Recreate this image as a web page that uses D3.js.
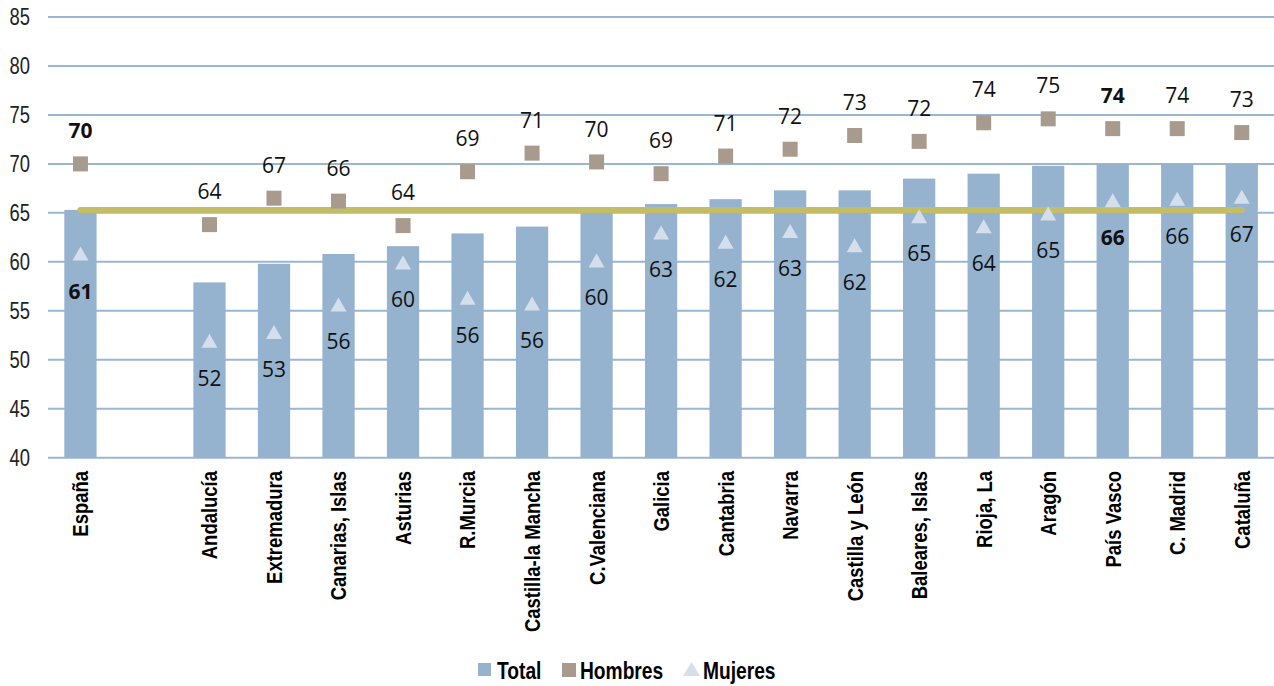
<!DOCTYPE html>
<html>
<head>
<meta charset="utf-8">
<script src="https://cdn.jsdelivr.net/npm/d3@7"></script>
<style>
  html, body { margin: 0; padding: 0; background: #fff; }
  svg { display: block; }
  .narrow { font-family: "Liberation Sans", Arial, sans-serif; }
  .lbl { font-family: "Open Sans", "Noto Sans", sans-serif; }
</style>
</head>
<body>
<svg id="chart" width="1274" height="686"></svg>
<script>
// ---- data ----
const categories = ["España", "", "Andalucía", "Extremadura", "Canarias, Islas", "Asturias", "R.Murcia",
  "Castilla-la Mancha", "C.Valenciana", "Galicia", "Cantabria", "Navarra", "Castilla y León",
  "Baleares, Islas", "Rioja, La", "Aragón", "País Vasco", "C. Madrid", "Cataluña"];
const total   = [65.3, null, 57.9, 59.8, 60.8, 61.6, 62.9, 63.6, 65.2, 65.9, 66.4, 67.3, 67.3, 68.5, 69.0, 69.8, 70.0, 70.0, 70.0];
const hombres = [70.0, null, 63.8, 66.5, 66.2, 63.7, 69.2, 71.1, 70.2, 69.0, 70.8, 71.5, 72.9, 72.3, 74.2, 74.6, 73.6, 73.6, 73.2];
const mujeres = [60.7, null, 51.8, 52.7, 55.5, 59.8, 56.2, 55.6, 60.0, 62.85, 61.9, 63.0, 61.55, 64.5, 63.5, 64.8, 66.15, 66.3, 66.5];
const hombresLabels = ["70", "", "64", "67", "66", "64", "69", "71", "70", "69", "71", "72", "73", "72", "74", "75", "74", "74", "73"];
const mujeresLabels = ["61", "", "52", "53", "56", "60", "56", "56", "60", "63", "62", "63", "62", "65", "64", "65", "66", "66", "67"];
const boldCategories = ["España", "País Vasco"];
const yTicks = [40, 45, 50, 55, 60, 65, 70, 75, 80, 85];
const referenceValue = total[0];
const legendItems = ["Total", "Hombres", "Mujeres"];

// ---- styles ----
const colBar = "#95b3cf", colGrid = "#9ab6d1", colSq = "#a89b8e", colTri = "#d5dfeb", colRef = "#c4bd68";

const svg = d3.select("#chart");
const keys = categories.map((c, i) => i);
const x = d3.scaleBand().domain(keys).range([48.2, 1274]).paddingInner(0.5).paddingOuter(0.25);
const y = d3.scaleLinear().domain([40, 85]).range([457.7, 17]);
const cx = i => x(i) + x.bandwidth() / 2;

// grid
svg.append("g").selectAll("line").data(yTicks).join("line")
  .attr("x1", 48).attr("x2", 1274)
  .attr("y1", d => y(d)).attr("y2", d => y(d))
  .attr("stroke", colGrid).attr("stroke-width", 2);

// y labels (condensed via horizontal scale)
svg.append("g").selectAll("text").data(yTicks).join("text")
  .attr("class", "narrow")
  .attr("transform", d => `translate(30,${y(d)}) scale(0.8,1)`)
  .attr("dy", "0.36em")
  .attr("text-anchor", "end").attr("font-size", 23).attr("fill", "#222")
  .text(d => d);

// bars
svg.append("g").selectAll("rect").data(keys.filter(i => total[i] != null)).join("rect")
  .attr("x", i => x(i)).attr("width", x.bandwidth())
  .attr("y", i => y(total[i])).attr("height", i => y(40) - y(total[i]))
  .attr("fill", colBar);

// category labels
svg.append("g").selectAll("text").data(keys.filter(i => categories[i] !== "")).join("text")
  .attr("class", "narrow")
  .attr("transform", i => `translate(${cx(i)},471) rotate(-90) scale(0.84,1)`)
  .attr("dy", "0.36em").attr("text-anchor", "end")
  .attr("font-size", 22).attr("font-weight", "bold").attr("fill", "#000")
  .text(i => categories[i]);

// reference line
const validIdx = keys.filter(i => total[i] != null);
svg.append("line")
  .attr("x1", cx(validIdx[0])).attr("x2", cx(validIdx[validIdx.length - 1]))
  .attr("y1", y(referenceValue)).attr("y2", y(referenceValue))
  .attr("stroke", colRef).attr("stroke-width", 6).attr("stroke-linecap", "round");

// hombres squares
const sq = 15;
svg.append("g").selectAll("rect").data(keys.filter(i => hombres[i] != null)).join("rect")
  .attr("x", i => cx(i) - sq / 2).attr("y", i => y(hombres[i]) - sq / 2)
  .attr("width", sq).attr("height", sq).attr("fill", colSq);

// mujeres triangles
const tw = 16, th = 14;
svg.append("g").selectAll("path").data(keys.filter(i => mujeres[i] != null)).join("path")
  .attr("d", i => {
    const px = cx(i), py = y(mujeres[i]);
    return `M${px},${py - th * 0.6}L${px + tw / 2},${py + th * 0.4}L${px - tw / 2},${py + th * 0.4}Z`;
  })
  .attr("fill", colTri);

// labels
svg.append("g").selectAll("text").data(keys.filter(i => hombres[i] != null)).join("text")
  .attr("class", "lbl")
  .attr("x", i => cx(i)).attr("y", i => y(hombres[i]) - 33).attr("dy", "0.36em")
  .attr("text-anchor", "middle").attr("font-size", 21).attr("fill", "#111")
  .attr("font-weight", i => boldCategories.includes(categories[i]) ? "bold" : "normal")
  .text(i => hombresLabels[i]);

svg.append("g").selectAll("text").data(keys.filter(i => mujeres[i] != null)).join("text")
  .attr("class", "lbl")
  .attr("x", i => cx(i)).attr("y", i => y(mujeres[i]) + 36).attr("dy", "0.36em")
  .attr("text-anchor", "middle").attr("font-size", 21).attr("fill", "#111")
  .attr("font-weight", i => boldCategories.includes(categories[i]) ? "bold" : "normal")
  .text(i => mujeresLabels[i]);

// legend
const lg = svg.append("g").attr("transform", "translate(0,670)");
const legendX = [478, 562, 683];
lg.append("rect").attr("x", legendX[0]).attr("y", -7).attr("width", 13).attr("height", 13).attr("fill", colBar);
lg.append("rect").attr("x", legendX[1]).attr("y", -7).attr("width", 14).attr("height", 14).attr("fill", colSq);
lg.append("path").attr("d", `M${legendX[2] + 8.5},-8L${legendX[2] + 17},6L${legendX[2]},6Z`).attr("fill", colTri);
lg.selectAll("text").data(legendItems).join("text")
  .attr("class", "narrow")
  .attr("transform", (d, i) => `translate(${legendX[i] + [19, 18, 20][i]},0) scale(0.8,1)`)
  .attr("dy", "0.36em")
  .attr("font-size", 24).attr("font-weight", "bold").attr("fill", "#000")
  .text(d => d);
</script>
</body>
</html>
